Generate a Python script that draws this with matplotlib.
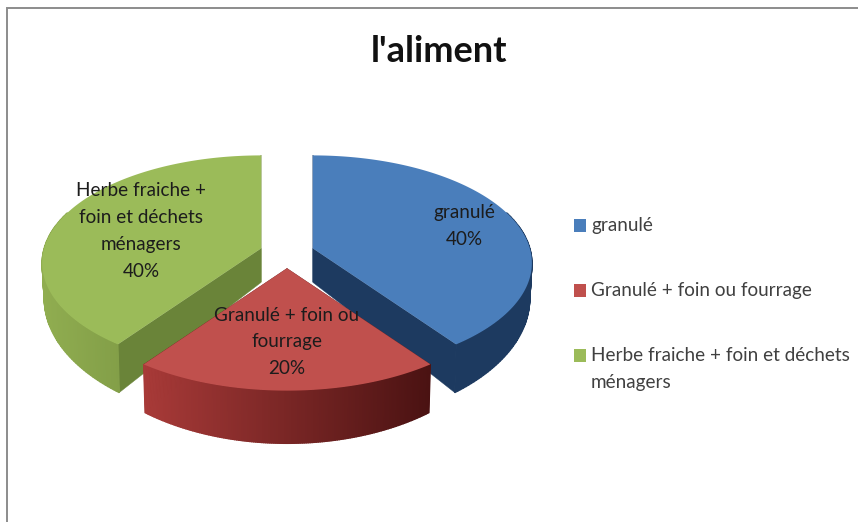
import numpy as np
import matplotlib
matplotlib.use("Agg")
import matplotlib.pyplot as plt
from matplotlib.colors import to_rgb
from matplotlib.patches import Rectangle

categories = ["granulé", "Granulé + foin ou fourrage", "Herbe fraiche + foin et déchets\nménagers"]
slice_labels = ["granulé", "Granulé + foin ou\nfourrage", "Herbe fraiche +\nfoin et déchets\nménagers"]
shares = [40, 20, 40]
title = "l'aliment"

top_colors = ["#4a7ebb", "#c0504d", "#9bbb59"]
flat_wall_colors = ["#1d3a60", "#7a2624", "#6a8439"]
# Outer wall shading from the left end of the arc to its right end
rim_colors = [("#1d3a60", "#1d3a60"), ("#a83a38", "#4a1212"), ("#90ad50", "#6a8439")]

CX, CY, RX, RY = 287.0, 253.0, 217.0, 105.6
TILT = 0.136
DEPTH = 34.0
EXPLODE_X, EXPLODE_Y = 0.126, 0.143


def project(u, v, drop=False):
    """Map pie-plane coordinates around a slice apex to pixel offsets, with perspective."""
    w = 1 + TILT * np.asarray(v)
    x = RX * np.asarray(u) / w
    y = -RY * np.asarray(v) / w
    if drop:
        return x * 0.99, y + DEPTH / w ** 3
    return x, y


def mix(a, b, t):
    a, b = np.array(to_rgb(a)), np.array(to_rgb(b))
    return tuple(a + (b - a) * t)


fig = plt.figure(figsize=(8.58, 5.22), dpi=100)
ax = fig.add_axes([0, 0, 1, 1])
ax.set_xlim(0, 858)
ax.set_ylim(522, 0)
ax.axis("off")

# Chart frame: only the top and left edges fall inside the canvas
ax.plot([7, 7, 858], [522, 8, 8], color="#8c8c8c", lw=1.4, solid_joinstyle="miter")

# Slice angles run clockwise from twelve o'clock
edges = np.concatenate([[0], np.cumsum(shares)]) / np.sum(shares) * 2 * np.pi

# Painted back to front: green, then blue, then the red slice in front
for layer, i in enumerate([2, 0, 1]):
    base = 10 * (layer + 1)
    a0, a1 = edges[i], edges[i + 1]
    mid = (a0 + a1) / 2
    ox, oy = project(EXPLODE_X * np.sin(mid), EXPLODE_Y * np.cos(mid))
    ox, oy = CX + ox, CY + oy
    theta = np.linspace(a0, a1, 161)
    u, v = np.sin(theta), np.cos(theta)

    # Flat walls running from the apex out to each end of the arc
    for a in (a0, a1):
        s = np.linspace(0, 1, 12)
        wu, wv = s * np.sin(a), s * np.cos(a)
        tx, ty = project(wu, wv)
        bx, by = project(wu, wv, drop=True)
        ax.fill(ox + np.r_[tx, bx[::-1]], oy + np.r_[ty, by[::-1]],
                color=flat_wall_colors[i], lw=0.3, zorder=base)

    # Outer wall, cut into strips so the shading can vary along the arc
    tx, ty = project(u, v)
    bx, by = project(u, v, drop=True)
    xmin, xmax = tx.min(), tx.max()
    left, right = rim_colors[i]
    for k in range(len(theta) - 1):
        if np.cos((theta[k] + theta[k + 1]) / 2) > 0.35:
            continue
        t = ((tx[k] + tx[k + 1]) / 2 - xmin) / (xmax - xmin)
        ax.fill(ox + np.array([tx[k], tx[k + 1], bx[k + 1], bx[k]]),
                oy + np.array([ty[k], ty[k + 1], by[k + 1], by[k]]),
                color=mix(left, right, t), lw=1.0, zorder=base + 1)

    # Top face
    px, py = project(np.r_[0, u], np.r_[0, v])
    ax.fill(ox + px, oy + py, color=top_colors[i], lw=0, zorder=base + 2)

label_font = dict(family="Lato", fontsize=13.6, ha="center", va="center",
                  color="#1c1c1c", linespacing=1.71, zorder=60)
anchors = [(464, 226), (287, 342), (141, 231)]
for text, share, (lx, ly) in zip(slice_labels, shares, anchors):
    ax.text(lx, ly, f"{text}\n{share}%", **label_font)

ax.text(439, 52, title, family="Lato", fontsize=26, fontweight="bold",
        ha="center", va="center", color="#111111", zorder=60)

# Legend swatches and entries
legend_rows = [225, 290, 355]
for name, color, y in zip(categories, top_colors, legend_rows):
    ax.add_patch(Rectangle((574, y - 6.5), 12, 13, color=color, lw=0, zorder=60))
    ax.text(591, y - 8, name, family="Lato", fontsize=13.6, ha="left", va="top",
            color="#404040", linespacing=1.71, zorder=60)

fig.savefig("out.png", dpi=100)
